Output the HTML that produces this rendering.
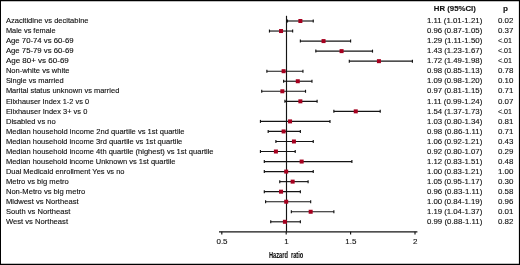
<!DOCTYPE html>
<html><head><meta charset="utf-8"><title>Forest plot</title>
<style>
html,body{margin:0;padding:0;background:#fff;}
body{width:520px;height:265px;overflow:hidden;font-family:"Liberation Sans",sans-serif;}
svg{display:block;position:absolute;left:0;top:0;will-change:transform;}
text{font-family:"Liberation Sans",sans-serif;fill:#111;stroke:#111;stroke-width:0.12px;}
</style></head><body>
<svg width="520" height="265" viewBox="0 0 520 265">
<rect x="0" y="0" width="520" height="265" fill="#fff"/>
<g font-size="7.3">
<text x="5.9" y="23.20" textLength="82.65" lengthAdjust="spacingAndGlyphs">Azacitidine vs decitabine</text>
<text x="426.9" y="23.20" textLength="55.4" lengthAdjust="spacingAndGlyphs">1.11 (1.01-1.21)</text>
<text x="497.9" y="23.20" textLength="15.4" lengthAdjust="spacingAndGlyphs">0.02</text>
<text x="5.9" y="33.24" textLength="49.65" lengthAdjust="spacingAndGlyphs">Male vs female</text>
<text x="426.9" y="33.24" textLength="55.4" lengthAdjust="spacingAndGlyphs">0.96 (0.87-1.05)</text>
<text x="497.9" y="33.24" textLength="15.4" lengthAdjust="spacingAndGlyphs">0.37</text>
<text x="5.9" y="43.28" textLength="67.65" lengthAdjust="spacingAndGlyphs">Age 70-74 vs 60-69</text>
<text x="426.9" y="43.28" textLength="55.4" lengthAdjust="spacingAndGlyphs">1.29 (1.11-1.50)</text>
<text x="497.9" y="43.28" textLength="14.0" lengthAdjust="spacingAndGlyphs">&lt;.01</text>
<text x="5.9" y="53.32" textLength="67.65" lengthAdjust="spacingAndGlyphs">Age 75-79 vs 60-69</text>
<text x="426.9" y="53.32" textLength="55.4" lengthAdjust="spacingAndGlyphs">1.43 (1.23-1.67)</text>
<text x="497.9" y="53.32" textLength="14.0" lengthAdjust="spacingAndGlyphs">&lt;.01</text>
<text x="5.9" y="63.36" textLength="62.90" lengthAdjust="spacingAndGlyphs">Age 80+ vs 60-69</text>
<text x="426.9" y="63.36" textLength="55.4" lengthAdjust="spacingAndGlyphs">1.72 (1.49-1.98)</text>
<text x="497.9" y="63.36" textLength="14.0" lengthAdjust="spacingAndGlyphs">&lt;.01</text>
<text x="5.9" y="73.40" textLength="63.65" lengthAdjust="spacingAndGlyphs">Non-white vs white</text>
<text x="426.9" y="73.40" textLength="55.4" lengthAdjust="spacingAndGlyphs">0.98 (0.85-1.13)</text>
<text x="497.9" y="73.40" textLength="15.4" lengthAdjust="spacingAndGlyphs">0.78</text>
<text x="5.9" y="83.44" textLength="57.65" lengthAdjust="spacingAndGlyphs">Single vs married</text>
<text x="426.9" y="83.44" textLength="55.4" lengthAdjust="spacingAndGlyphs">1.09 (0.98-1.20)</text>
<text x="497.9" y="83.44" textLength="15.4" lengthAdjust="spacingAndGlyphs">0.10</text>
<text x="5.9" y="93.48" textLength="113.40" lengthAdjust="spacingAndGlyphs">Marital status unknown vs married</text>
<text x="426.9" y="93.48" textLength="55.4" lengthAdjust="spacingAndGlyphs">0.97 (0.81-1.15)</text>
<text x="497.9" y="93.48" textLength="15.4" lengthAdjust="spacingAndGlyphs">0.71</text>
<text x="5.9" y="103.52" textLength="83.15" lengthAdjust="spacingAndGlyphs">Elixhauser Index 1-2 vs 0</text>
<text x="426.9" y="103.52" textLength="55.4" lengthAdjust="spacingAndGlyphs">1.11 (0.99-1.24)</text>
<text x="497.9" y="103.52" textLength="15.4" lengthAdjust="spacingAndGlyphs">0.07</text>
<text x="5.9" y="113.56" textLength="81.40" lengthAdjust="spacingAndGlyphs">Elixhauser Index 3+ vs 0</text>
<text x="426.9" y="113.56" textLength="55.4" lengthAdjust="spacingAndGlyphs">1.54 (1.37-1.73)</text>
<text x="497.9" y="113.56" textLength="14.0" lengthAdjust="spacingAndGlyphs">&lt;.01</text>
<text x="5.9" y="123.60" textLength="49.90" lengthAdjust="spacingAndGlyphs">Disabled vs no</text>
<text x="426.9" y="123.60" textLength="55.4" lengthAdjust="spacingAndGlyphs">1.03 (0.80-1.34)</text>
<text x="497.9" y="123.60" textLength="15.4" lengthAdjust="spacingAndGlyphs">0.81</text>
<text x="5.9" y="133.64" textLength="178.65" lengthAdjust="spacingAndGlyphs">Median household income 2nd quartile vs 1st quartile</text>
<text x="426.9" y="133.64" textLength="55.4" lengthAdjust="spacingAndGlyphs">0.98 (0.86-1.11)</text>
<text x="497.9" y="133.64" textLength="15.4" lengthAdjust="spacingAndGlyphs">0.71</text>
<text x="5.9" y="143.68" textLength="176.40" lengthAdjust="spacingAndGlyphs">Median household income 3rd quartile vs 1st quartile</text>
<text x="426.9" y="143.68" textLength="55.4" lengthAdjust="spacingAndGlyphs">1.06 (0.92-1.21)</text>
<text x="497.9" y="143.68" textLength="15.4" lengthAdjust="spacingAndGlyphs">0.43</text>
<text x="5.9" y="153.72" textLength="207.65" lengthAdjust="spacingAndGlyphs">Median household income 4th quartile (highest) vs 1st quartile</text>
<text x="426.9" y="153.72" textLength="55.4" lengthAdjust="spacingAndGlyphs">0.92 (0.80-1.07)</text>
<text x="497.9" y="153.72" textLength="15.4" lengthAdjust="spacingAndGlyphs">0.29</text>
<text x="5.9" y="163.76" textLength="169.65" lengthAdjust="spacingAndGlyphs">Median household income Unknown vs 1st quartile</text>
<text x="426.9" y="163.76" textLength="55.4" lengthAdjust="spacingAndGlyphs">1.12 (0.83-1.51)</text>
<text x="497.9" y="163.76" textLength="15.4" lengthAdjust="spacingAndGlyphs">0.48</text>
<text x="5.9" y="173.80" textLength="118.65" lengthAdjust="spacingAndGlyphs">Dual Medicaid enrollment Yes vs no</text>
<text x="426.9" y="173.80" textLength="55.4" lengthAdjust="spacingAndGlyphs">1.00 (0.83-1.21)</text>
<text x="497.9" y="173.80" textLength="15.4" lengthAdjust="spacingAndGlyphs">1.00</text>
<text x="5.9" y="183.84" textLength="62.90" lengthAdjust="spacingAndGlyphs">Metro vs big metro</text>
<text x="426.9" y="183.84" textLength="55.4" lengthAdjust="spacingAndGlyphs">1.05 (0.95-1.17)</text>
<text x="497.9" y="183.84" textLength="15.4" lengthAdjust="spacingAndGlyphs">0.30</text>
<text x="5.9" y="193.88" textLength="79.40" lengthAdjust="spacingAndGlyphs">Non-Metro vs big metro</text>
<text x="426.9" y="193.88" textLength="55.4" lengthAdjust="spacingAndGlyphs">0.96 (0.83-1.11)</text>
<text x="497.9" y="193.88" textLength="15.4" lengthAdjust="spacingAndGlyphs">0.58</text>
<text x="5.9" y="203.92" textLength="72.65" lengthAdjust="spacingAndGlyphs">Midwest vs Northeast</text>
<text x="426.9" y="203.92" textLength="55.4" lengthAdjust="spacingAndGlyphs">1.00 (0.84-1.19)</text>
<text x="497.9" y="203.92" textLength="15.4" lengthAdjust="spacingAndGlyphs">0.96</text>
<text x="5.9" y="213.96" textLength="64.40" lengthAdjust="spacingAndGlyphs">South vs Northeast</text>
<text x="426.9" y="213.96" textLength="55.4" lengthAdjust="spacingAndGlyphs">1.19 (1.04-1.37)</text>
<text x="497.9" y="213.96" textLength="15.4" lengthAdjust="spacingAndGlyphs">0.01</text>
<text x="5.9" y="224.00" textLength="62.15" lengthAdjust="spacingAndGlyphs">West vs Northeast</text>
<text x="426.9" y="224.00" textLength="55.4" lengthAdjust="spacingAndGlyphs">0.99 (0.88-1.11)</text>
<text x="497.9" y="224.00" textLength="15.4" lengthAdjust="spacingAndGlyphs">0.82</text>
</g>
<text x="433.8" y="11.0" font-size="7.3" font-weight="bold" textLength="42" lengthAdjust="spacingAndGlyphs">HR (95%CI)</text>
<text x="503.1" y="11.0" font-size="7.3" font-weight="bold" textLength="5" lengthAdjust="spacingAndGlyphs">p</text>
<g stroke="#141414" stroke-width="1.15" fill="none">
<line x1="286.5" y1="15.8" x2="286.5" y2="231.8"/>
<line x1="219" y1="231.8" x2="417.4" y2="231.8"/>
<line x1="221.80" y1="231.8" x2="221.80" y2="234.4"/>
<line x1="286.20" y1="231.8" x2="286.20" y2="234.4"/>
<line x1="350.60" y1="231.8" x2="350.60" y2="234.4"/>
<line x1="415.00" y1="231.8" x2="415.00" y2="234.4"/>
<line x1="287.49" y1="21.00" x2="313.25" y2="21.00"/>
<line x1="287.49" y1="19.50" x2="287.49" y2="22.50"/>
<line x1="313.25" y1="19.50" x2="313.25" y2="22.50"/>
<line x1="269.46" y1="31.04" x2="292.64" y2="31.04"/>
<line x1="269.46" y1="29.54" x2="269.46" y2="32.54"/>
<line x1="292.64" y1="29.54" x2="292.64" y2="32.54"/>
<line x1="300.37" y1="41.08" x2="350.60" y2="41.08"/>
<line x1="300.37" y1="39.58" x2="300.37" y2="42.58"/>
<line x1="350.60" y1="39.58" x2="350.60" y2="42.58"/>
<line x1="315.82" y1="51.12" x2="372.50" y2="51.12"/>
<line x1="315.82" y1="49.62" x2="315.82" y2="52.62"/>
<line x1="372.50" y1="49.62" x2="372.50" y2="52.62"/>
<line x1="349.31" y1="61.16" x2="412.42" y2="61.16"/>
<line x1="349.31" y1="59.66" x2="349.31" y2="62.66"/>
<line x1="412.42" y1="59.66" x2="412.42" y2="62.66"/>
<line x1="266.88" y1="71.20" x2="302.94" y2="71.20"/>
<line x1="266.88" y1="69.70" x2="266.88" y2="72.70"/>
<line x1="302.94" y1="69.70" x2="302.94" y2="72.70"/>
<line x1="283.62" y1="81.24" x2="311.96" y2="81.24"/>
<line x1="283.62" y1="79.74" x2="283.62" y2="82.74"/>
<line x1="311.96" y1="79.74" x2="311.96" y2="82.74"/>
<line x1="261.73" y1="91.28" x2="305.52" y2="91.28"/>
<line x1="261.73" y1="89.78" x2="261.73" y2="92.78"/>
<line x1="305.52" y1="89.78" x2="305.52" y2="92.78"/>
<line x1="284.91" y1="101.32" x2="317.11" y2="101.32"/>
<line x1="284.91" y1="99.82" x2="284.91" y2="102.82"/>
<line x1="317.11" y1="99.82" x2="317.11" y2="102.82"/>
<line x1="333.86" y1="111.36" x2="380.22" y2="111.36"/>
<line x1="333.86" y1="109.86" x2="333.86" y2="112.86"/>
<line x1="380.22" y1="109.86" x2="380.22" y2="112.86"/>
<line x1="260.44" y1="121.40" x2="329.99" y2="121.40"/>
<line x1="260.44" y1="119.90" x2="260.44" y2="122.90"/>
<line x1="329.99" y1="119.90" x2="329.99" y2="122.90"/>
<line x1="268.17" y1="131.44" x2="300.37" y2="131.44"/>
<line x1="268.17" y1="129.94" x2="268.17" y2="132.94"/>
<line x1="300.37" y1="129.94" x2="300.37" y2="132.94"/>
<line x1="275.90" y1="141.48" x2="313.25" y2="141.48"/>
<line x1="275.90" y1="139.98" x2="275.90" y2="142.98"/>
<line x1="313.25" y1="139.98" x2="313.25" y2="142.98"/>
<line x1="260.44" y1="151.52" x2="295.22" y2="151.52"/>
<line x1="260.44" y1="150.02" x2="260.44" y2="153.02"/>
<line x1="295.22" y1="150.02" x2="295.22" y2="153.02"/>
<line x1="264.30" y1="161.56" x2="351.89" y2="161.56"/>
<line x1="264.30" y1="160.06" x2="264.30" y2="163.06"/>
<line x1="351.89" y1="160.06" x2="351.89" y2="163.06"/>
<line x1="264.30" y1="171.60" x2="313.25" y2="171.60"/>
<line x1="264.30" y1="170.10" x2="264.30" y2="173.10"/>
<line x1="313.25" y1="170.10" x2="313.25" y2="173.10"/>
<line x1="279.76" y1="181.64" x2="308.10" y2="181.64"/>
<line x1="279.76" y1="180.14" x2="279.76" y2="183.14"/>
<line x1="308.10" y1="180.14" x2="308.10" y2="183.14"/>
<line x1="264.30" y1="191.68" x2="300.37" y2="191.68"/>
<line x1="264.30" y1="190.18" x2="264.30" y2="193.18"/>
<line x1="300.37" y1="190.18" x2="300.37" y2="193.18"/>
<line x1="265.59" y1="201.72" x2="310.67" y2="201.72"/>
<line x1="265.59" y1="200.22" x2="265.59" y2="203.22"/>
<line x1="310.67" y1="200.22" x2="310.67" y2="203.22"/>
<line x1="291.35" y1="211.76" x2="333.86" y2="211.76"/>
<line x1="291.35" y1="210.26" x2="291.35" y2="213.26"/>
<line x1="333.86" y1="210.26" x2="333.86" y2="213.26"/>
<line x1="270.74" y1="221.80" x2="300.37" y2="221.80"/>
<line x1="270.74" y1="220.30" x2="270.74" y2="223.30"/>
<line x1="300.37" y1="220.30" x2="300.37" y2="223.30"/>
</g>
<g fill="#a6001f">
<rect x="298.37" y="19.00" width="4" height="4"/>
<rect x="279.05" y="29.04" width="4" height="4"/>
<rect x="321.55" y="39.08" width="4" height="4"/>
<rect x="339.58" y="49.12" width="4" height="4"/>
<rect x="376.94" y="59.16" width="4" height="4"/>
<rect x="281.62" y="69.20" width="4" height="4"/>
<rect x="295.79" y="79.24" width="4" height="4"/>
<rect x="280.34" y="89.28" width="4" height="4"/>
<rect x="298.37" y="99.32" width="4" height="4"/>
<rect x="353.75" y="109.36" width="4" height="4"/>
<rect x="288.06" y="119.40" width="4" height="4"/>
<rect x="281.62" y="129.44" width="4" height="4"/>
<rect x="291.93" y="139.48" width="4" height="4"/>
<rect x="273.90" y="149.52" width="4" height="4"/>
<rect x="299.66" y="159.56" width="4" height="4"/>
<rect x="284.20" y="169.60" width="4" height="4"/>
<rect x="290.64" y="179.64" width="4" height="4"/>
<rect x="279.05" y="189.68" width="4" height="4"/>
<rect x="284.20" y="199.72" width="4" height="4"/>
<rect x="308.67" y="209.76" width="4" height="4"/>
<rect x="282.91" y="219.80" width="4" height="4"/>
</g>
<g font-size="8" text-anchor="middle">
<text x="222.00" y="244.2">0.5</text>
<text x="286.40" y="244.2">1</text>
<text x="350.80" y="244.2">1.5</text>
<text x="415.20" y="244.2">2</text>
</g>
<g transform="translate(269.0,257.7) scale(0.58,1)"><text x="0" y="0" font-size="9.8" font-weight="bold" word-spacing="2.45" stroke="#111" stroke-width="0.2">Hazard ratio</text></g>
<path d="M0 0H520V265H0Z M1 1.15V263.8H518.9V1.15Z" fill="#000" fill-rule="evenodd"/>
</svg></body></html>
